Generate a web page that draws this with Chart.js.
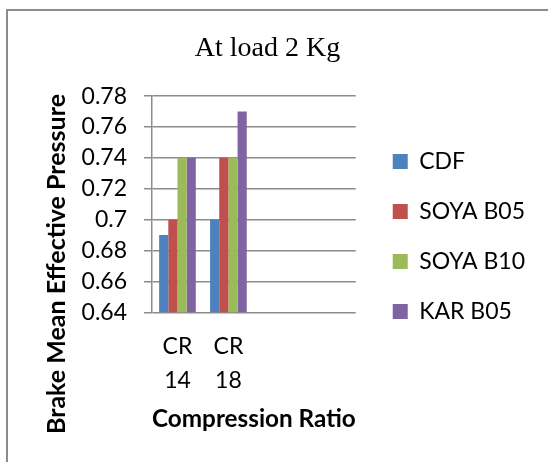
<!DOCTYPE html>
<html>
<head>
<meta charset="utf-8">
<script src="https://cdn.jsdelivr.net/npm/chart.js@4"></script>
<style>
  html, body { margin: 0; padding: 0; background: #fff; overflow: hidden; }
  #cornice { position: absolute; left: 6px; top: 9px; width: 600px; height: 500px; border: 2px solid #8c8c8c; }
  #contenitore { position: absolute; left: 0; top: 0; width: 548px; height: 462px; }
</style>
</head>
<body>
<div id="cornice"></div>
<div id="contenitore"><canvas id="pressioneChart" width="548" height="462"></canvas></div>
<script>
// ── Dati ─────────────────────────────────────────────────────
const categorie = [['CR', '14'], ['CR', '18'], '', ''];
const cdf = [0.69, 0.70];
const soyaB05 = [0.70, 0.74];
const soyaB10 = [0.74, 0.74];
const karB05 = [0.74, 0.77];
const yMin = 0.64;
const yMax = 0.78;
const yPasso = 0.02;

const fontTesto = 'Lato';

// titolo asse Y disegnato a mano (Excel lo centra sull'altezza del grafico)
const titoloAsseY = {
    id: 'titoloAsseY',
    afterDraw(chart) {
        const c = chart.ctx;
        c.save();
        c.translate(57, 264);
        c.rotate(-Math.PI / 2);
        c.font = 'bold 25px ' + fontTesto;
        c.fillStyle = '#000';
        c.textAlign = 'center';
        c.textBaseline = 'middle';
        c.fillText('Brake Mean Effective Pressure', 0, 0);
        c.restore();
    }
};

const ctx = document.getElementById('pressioneChart').getContext('2d');
const pressioneChart = new Chart(ctx, {
    type: 'bar',
    data: {
        labels: categorie,
        datasets: [
            { label: 'CDF', data: cdf, backgroundColor: '#4F81BD' },
            { label: 'SOYA B05', data: soyaB05, backgroundColor: '#C0504D' },
            { label: 'SOYA B10', data: soyaB10, backgroundColor: '#9BBB59' },
            { label: 'KAR B05', data: karB05, backgroundColor: '#8064A2' }
        ]
    },
    options: {
        responsive: false,
        devicePixelRatio: 1,
        animation: false,
        datasets: {
            bar: { categoryPercentage: 0.72, barPercentage: 1, borderWidth: 0 }
        },
        layout: { padding: { top: 11, right: 13, bottom: 0, left: 0 } },
        scales: {
            x: {
                grid: { display: false, drawTicks: false },
                border: { display: false },
                ticks: {
                    color: '#000',
                    padding: 18,
                    maxRotation: 0,
                    font: { family: fontTesto, size: 23, lineHeight: 1.45 }
                },
                title: {
                    display: true,
                    text: 'Compression Ratio',
                    color: '#000',
                    padding: { top: -11, bottom: 28 },
                    font: { family: fontTesto, size: 25, weight: 'bold' }
                }
            },
            y: {
                min: yMin,
                max: yMax,
                afterFit: s => { s.width = 152; },
                grid: { color: '#8c8c8c', lineWidth: 1.5, drawTicks: true, tickLength: 8 },
                border: { display: true, color: '#8c8c8c', width: 1.5 },
                ticks: {
                    stepSize: yPasso,
                    autoSkip: false,
                    color: '#000',
                    padding: 17,
                    font: { family: fontTesto, size: 23 },
                    callback: v => String(+v.toFixed(2))
                }
            },
            spazioDx: {
                position: 'right',
                display: true,
                afterFit: s => { s.width = 10; },
                grid: { display: false },
                border: { display: false },
                ticks: { display: false }
            }
        },
        plugins: {
            title: {
                display: true,
                text: 'At load 2 Kg',
                color: '#000',
                padding: { top: 21, bottom: 30.5 },
                font: { family: 'Liberation Serif', size: 28, weight: 'normal' }
            },
            legend: {
                position: 'right',
                maxWidth: 200,
                labels: {
                    color: '#000',
                    boxWidth: 15,
                    boxHeight: 15,
                    padding: 27,
                    font: { family: fontTesto, size: 23 }
                }
            },
            tooltip: { enabled: false }
        }
    },
    plugins: [titoloAsseY]
});
</script>
</body>
</html>
